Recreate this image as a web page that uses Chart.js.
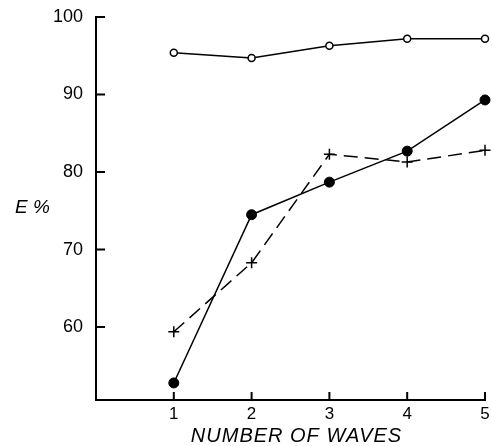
<!DOCTYPE html>
<html>
<head>
<meta charset="utf-8">
<script src="https://cdn.jsdelivr.net/npm/chart.js@4"></script>
<style>
  html, body { margin: 0; padding: 0; background: #fff; }
  #wrap { width: 492px; height: 446px; }
</style>
</head>
<body>
<div id="wrap"><canvas id="chart" width="492" height="446"></canvas></div>
<script>
// valores
var waves = [1, 2, 3, 4, 5];
var yTicks = [60, 70, 80, 90, 100];
var openCircle = [95.4, 94.7, 96.3, 97.2, 97.2];
var filledCircle = [52.8, 74.5, 78.7, 82.7, 89.3];
var cross = [59.4, 68.3, 82.3, 81.3, 82.8];

function pts(vals) { // junta x e y
    return waves.map(function (w, i) { return { x: w, y: vals[i] }; });
}

// marcas dos eixos para dentro e titulos
var axisExtras = {
    id: 'axisExtras',
    afterDraw: function (chart) {
        var ctx = chart.ctx, a = chart.chartArea;
        var xs = chart.scales.x, ys = chart.scales.y;
        ctx.save();
        ctx.strokeStyle = '#000';
        ctx.lineWidth = 2;
        ctx.beginPath();
        yTicks.forEach(function (v) {
            var py = ys.getPixelForValue(v);
            ctx.moveTo(a.left, py);
            ctx.lineTo(a.left + 9, py);
        });
        waves.forEach(function (w) {
            var px = xs.getPixelForValue(w);
            ctx.moveTo(px, a.bottom);
            ctx.lineTo(px, a.bottom - 8);
        });
        ctx.stroke();
        ctx.fillStyle = '#000';
        ctx.font = 'italic 19px "Liberation Sans", Arial, sans-serif';
        ctx.textBaseline = 'middle';
        ctx.textAlign = 'left';
        ctx.fillText('E %', 15, ys.getPixelForValue(75.4));
        ctx.font = 'italic 20px "Liberation Sans", Arial, sans-serif';
        ctx.textAlign = 'center';
        if ('letterSpacing' in ctx) ctx.letterSpacing = '1px';
        ctx.fillText('NUMBER OF WAVES', (a.left + a.right) / 2 + 6, a.bottom + 36);
        ctx.restore();
    }
};

var ctx = document.getElementById('chart');
var myChart = new Chart(ctx, {
    type: 'line',
    data: {
        datasets: [{
            label: 'open',
            data: pts(openCircle),
            borderColor: '#000',
            backgroundColor: '#fff',
            borderWidth: 1.5,
            pointRadius: 3.5,
            pointBorderWidth: 1.5,
            pointStyle: 'circle'
        }, {
            label: 'filled',
            data: pts(filledCircle),
            borderColor: '#000',
            backgroundColor: '#000',
            borderWidth: 1.5,
            pointRadius: 5,
            pointBorderWidth: 1,
            pointStyle: 'circle'
        }, {
            label: 'cross',
            data: pts(cross),
            borderColor: '#000',
            backgroundColor: '#000',
            borderWidth: 1.5,
            borderDash: [14, 7],
            pointRadius: 5.5,
            pointBorderWidth: 1.5,
            pointStyle: 'cross'
        }]
    },
    options: {
        responsive: false,
        animation: false,
        clip: false,
        layout: { padding: { left: 0, top: 17, right: 3, bottom: 0 } },
        plugins: {
            legend: { display: false },
            tooltip: { enabled: false }
        },
        elements: { line: { tension: 0 } },
        scales: {
            x: {
                type: 'linear',
                min: 0,
                max: 5,
                grid: { display: false, drawTicks: false },
                border: { display: true, width: 2, color: '#000' },
                afterBuildTicks: function (s) {
                    s.ticks = waves.map(function (w) { return { value: w }; });
                },
                ticks: {
                    color: '#000',
                    padding: 4,
                    maxRotation: 0,
                    font: { family: '"Liberation Sans", Arial, sans-serif', size: 17 }
                },
                afterFit: function (s) {
                    s.height = 46;
                    s.paddingLeft = 0;
                    s.paddingRight = 0;
                }
            },
            y: {
                type: 'linear',
                min: 50.6,
                max: 100,
                grid: { display: false, drawTicks: false },
                border: { display: true, width: 2, color: '#000' },
                afterBuildTicks: function (s) {
                    s.ticks = yTicks.map(function (v) { return { value: v }; });
                },
                ticks: {
                    color: '#000',
                    padding: 13,
                    font: { family: '"Liberation Sans", Arial, sans-serif', size: 18 }
                },
                afterFit: function (s) {
                    s.width = 96;
                    s.paddingTop = 0;
                    s.paddingBottom = 0;
                }
            }
        }
    },
    plugins: [axisExtras]
});
</script>
</body>
</html>
